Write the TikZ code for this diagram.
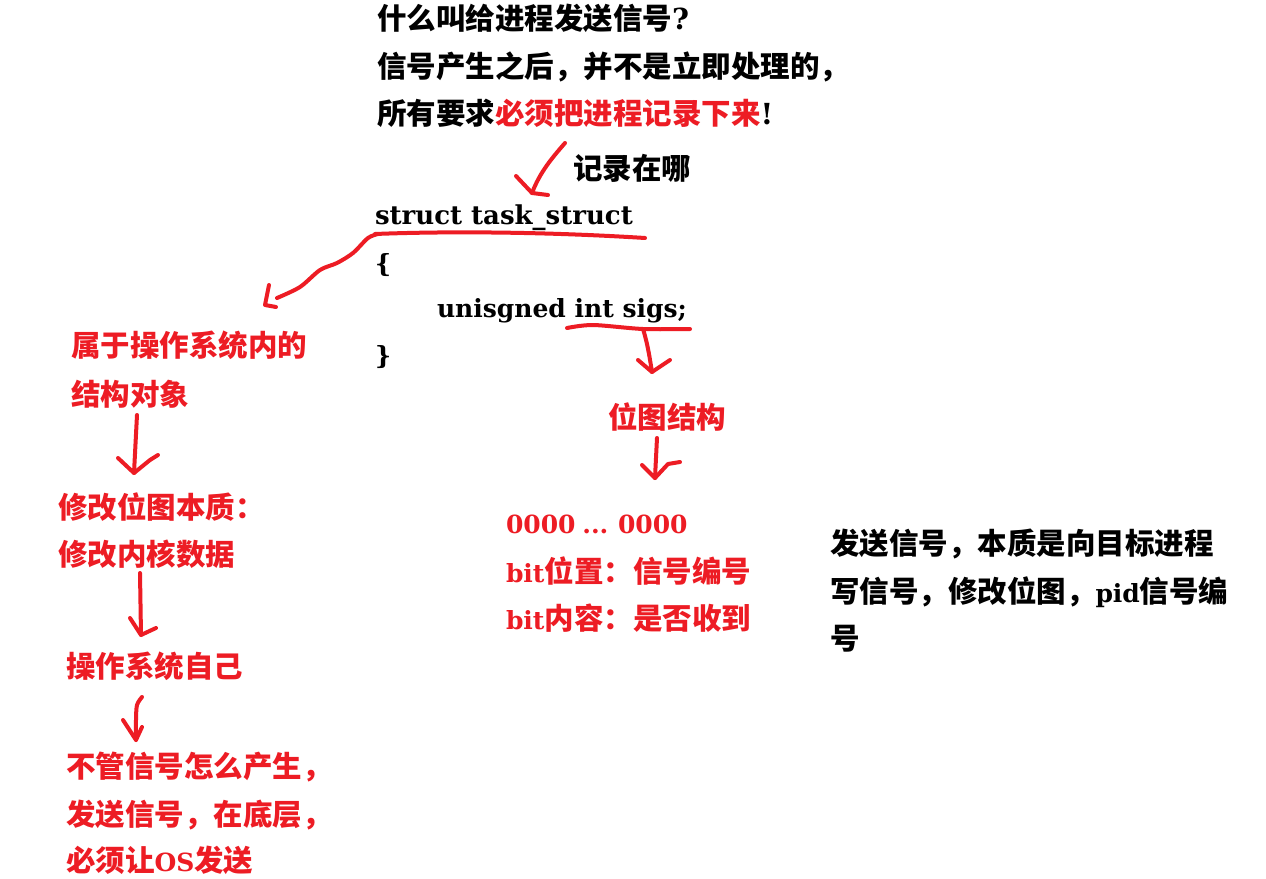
\documentclass[tikz,border=0pt]{standalone}
\usepackage{fontspec}
\setmainfont{DejaVu Serif}
\newfontfamily\cjkfont{Noto Sans CJK SC}
\newcommand\zh[1]{{\cjkfont\bfseries\fontsize{29.5}{36}\selectfont #1}}
\newcommand\bigpunct[1]{{\fontsize{29}{36}\selectfont #1}}
\definecolor{myred}{RGB}{237,28,36}
\begin{document}
\begin{tikzpicture}[x=1pt,y=-1pt,
  txt/.style={anchor=base west, inner sep=0pt, outer sep=0pt, font=\fontsize{25}{30}\selectfont\bfseries},
  rtxt/.style={txt, text=myred},
  pen/.style={draw=myred, line width=4pt, line cap=round, line join=round}]
\useasboundingbox[fill=white] (0,0) rectangle (1266,878);
% top question
\node[txt] (q1) at (377,29) {\zh{什么叫给进程发送信号}\bigpunct{?}};
\node[txt] (q2) at (377,77) {\zh{信号产生之后，并不是立即处理的，}};
\node[txt] (q3) at (377,124) {\zh{所有要求}\textcolor{myred}{\zh{必须把进程记录下来}}\bigpunct{!}};
\node[txt] (where) at (573,179) {\zh{记录在哪}};
% struct
\node[txt] (st) at (375,224) {\fontsize{26}{30}\selectfont struct task\_struct};
\node[txt] (lb) at (375,272) {\{};
\node[txt] (field) at (437,317) {unisgned int sigs;};
\node[txt] (rb) at (375,364) {\}};
% left column
\node[rtxt] (l1) at (71,356) {\zh{属于操作系统内的}};
\node[rtxt] (l2) at (71,405) {\zh{结构对象}};
\node[rtxt] (l3) at (58,518) {\zh{修改位图本质：}};
\node[rtxt] (l4) at (58,565) {\zh{修改内核数据}};
\node[rtxt] (l5) at (66,677) {\zh{操作系统自己}};
\node[rtxt] (l6) at (66,777) {\zh{不管信号怎么产生，}};
\node[rtxt] (l7) at (66,825) {\zh{发送信号，在底层，}};
\node[rtxt] (l8) at (66,871) {\zh{必须让}OS\zh{发送}};
% middle column
\node[rtxt] (bm) at (608,428) {\zh{位图结构}};
\node[rtxt] (bits) at (506,533) {0000\hspace{-2pt} ...\hspace{-2pt} 0000};
\node[rtxt] (pos) at (506,582) {bit\zh{位置：信号编号}};
\node[rtxt] (val) at (506,629) {bit\zh{内容：是否收到}};
% right note
\node[txt] (r1) at (830,554) {\zh{发送信号，本质是向目标进程}};
\node[txt] (r2) at (830,602) {\zh{写信号，修改位图，}pid\zh{信号编}};
\node[txt] (r3) at (830,649) {\zh{号}};
% hand-drawn arrows
\coordinate (a1s) at (565,143); \coordinate (a1e) at (532,193);
\draw[pen] (a1s) .. controls (552,158) and (540,172) .. (a1e);
\draw[pen] (516,176) -- (a1e) -- (548,195);
\coordinate (u1s) at (375,234); \coordinate (u1e) at (645,238);
\draw[pen] (u1s) .. controls (450,231) and (550,232) .. (u1e);
\coordinate (a2e) at (277,298);
\draw[pen] plot[smooth] coordinates {(378,234) (368,238) (353,253) (337,263) (320,270) (300,287) (a2e)};
\draw[pen] (269,285) -- (265,305) -- (276,307);
\coordinate (u2s) at (567,328); \coordinate (u2e) at (690,329);
\draw[pen] plot[smooth] coordinates {(u2s) (593,325) (643,329) (u2e)};
\coordinate (a3s) at (643,329); \coordinate (a3e) at (652,372);
\draw[pen] (a3s) .. controls (648,345) and (650,360) .. (a3e);
\draw[pen] (638,360) -- (a3e) -- (670,360);
\coordinate (a4s) at (657,438); \coordinate (a4e) at (655,478);
\draw[pen] (a4s) -- (a4e);
\draw[pen] (642,465) -- (a4e) -- (668,464) -- (680,462);
\coordinate (a5s) at (137,415); \coordinate (a5e) at (134,473);
\draw[pen] (a5s) -- (a5e);
\draw[pen] (118,458) -- (a5e) -- (150,460) -- (158,455);
\coordinate (a6s) at (140,573); \coordinate (a6e) at (141,635);
\draw[pen] (a6s) -- (a6e);
\draw[pen] (130,618) -- (a6e) -- (156,628);
\coordinate (a7s) at (142,697); \coordinate (a7e) at (136,740);
\draw[pen] plot[smooth] coordinates {(a7s) (137,705) (136,720) (a7e)};
\draw[pen] (123,720) -- (a7e) -- (142,727);
\end{tikzpicture}
\end{document}
